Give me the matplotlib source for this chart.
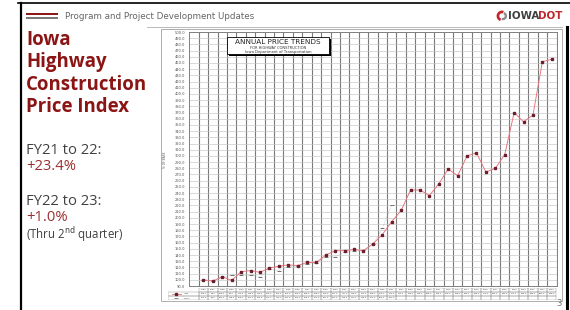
import matplotlib
matplotlib.use("Agg")
import matplotlib.pyplot as plt
from matplotlib.patches import Rectangle, Wedge
from matplotlib.lines import Line2D

# ---------------- data ----------------
years = list(range(1986, 2024))
iowa_index = [100, 98, 105, 99, 113, 115, 112, 119, 122, 124,
              123, 128, 128, 140, 147, 147, 149, 147, 158, 173,
              194, 212, 245, 245, 236, 255, 279, 268, 300, 305,
              274, 280, 302, 370, 355, 366, 452, 456]
national_years = list(range(1986, 2007))
national_index = [100, 98, 104, 108, 108, 107, 105, 117, 115, 121,
                  122, 126, 127, 137, 137, 145, 147, 148, 157, 183, 221]
y_ticks = list(range(90, 501, 10))
series_labels = ["Iowa", "FHWA"]

W, H = 570, 310
fig = plt.figure(figsize=(5.7, 3.1), dpi=100)
fig.patch.set_facecolor("white")


def fr(x0, y0, x1, y1):
    return [x0 / W, 1 - y1 / H, (x1 - x0) / W, (y1 - y0) / H]


bg = fig.add_axes([0, 0, 1, 1])
bg.set_xlim(0, W)
bg.set_ylim(H, 0)
bg.axis("off")

# slide borders
bg.add_line(Line2D([18, 570], [2.5, 2.5], color="black", lw=1.2))
bg.add_line(Line2D([20.5, 20.5], [2.5, 310], color="black", lw=1.6))
bg.add_line(Line2D([566.5, 566.5], [27, 310], color="black", lw=2.2))

# header
bg.add_patch(Rectangle((26, 13.3), 32, 2.0, color="#8B1A1A", lw=0))
bg.add_patch(Rectangle((26, 16.7), 32, 2.8, color="#7a7a7a", lw=0))
bg.text(65, 16.2, "Program and Project Development Updates", fontsize=6.3,
        color="#666666", va="center", ha="left", family="DejaVu Sans")
# logo
bg.add_patch(Wedge((502, 16), 5.4, 110, 290, width=2.7, color="#C0272D", lw=0))
bg.add_patch(Wedge((502.8, 16), 4.2, 290, 110, width=2.3, color="#8a8a8a", lw=0))
bg.text(508, 16.2, "IOWA", fontsize=7.4, fontweight="bold", color="#404040",
        va="center", ha="left", family="DejaVu Sans")
bg.text(538, 16.2, "DOT", fontsize=7.4, fontweight="bold", color="#C0272D",
        va="center", ha="left", family="DejaVu Sans")

# chart image frame
bg.add_line(Line2D([147, 562], [27, 27], color="#b0b0b0", lw=0.6))
bg.add_patch(Rectangle((161, 28.5), 401, 272.5, fill=False, ec="#a0a0a0", lw=0.6))
bg.text(559, 303, "3", fontsize=6, color="#707070", ha="center", va="center")

# left text panel
red_dark = "#8B1414"
for i, line in enumerate(["Iowa", "Highway", "Construction", "Price Index"]):
    bg.text(26, 40 + i * 22.3, line, fontsize=13.4, fontweight="bold",
            color=red_dark, va="center", ha="left", family="Open Sans")
bg.text(26, 150, "FY21 to 22:", fontsize=10.6, color="#404040", va="center",
        family="Open Sans")
bg.text(26, 166.5, "+23.4%", fontsize=10.6, color="#9B2F2F", va="center",
        family="Open Sans")
bg.text(26, 201.5, "FY22 to 23:", fontsize=10.6, color="#404040", va="center",
        family="Open Sans")
bg.text(26, 217.5, "+1.0%", fontsize=10.6, color="#9B2F2F", va="center",
        family="Open Sans")
bg.text(26, 234.5, r"(Thru 2$^{\mathrm{nd}}$ quarter)", fontsize=8.3,
        color="#404040", va="center", family="Open Sans")

# ---------------- chart ----------------
ax = fig.add_axes(fr(189.3, 32, 556.5, 286))
xs = list(range(len(years)))
ax.set_xlim(-1.5, len(years) - 0.5)
ax.set_ylim(90, 500)
ax.set_yticks(y_ticks)
ax.set_yticklabels([f"{v:.1f}" for v in y_ticks], fontsize=2.6, color="#555555")
ax.tick_params(axis="y", length=0, pad=3)
ax.set_xticks([])
ax.set_xticks([i + 0.5 for i in range(-1, len(years))], minor=True)
ax.tick_params(axis="x", which="minor", length=0)
ax.grid(axis="y", which="major", color="#c4c4c4", lw=0.45)
ax.grid(axis="x", which="minor", color="#7a7a7a", lw=0.8)
ax.set_axisbelow(True)
for s in ax.spines.values():
    s.set_color("#808080")
    s.set_linewidth(0.7)

nat_x = [years.index(y) for y in national_years]
ax.plot(nat_x, national_index, linestyle=":", lw=0.4, color="#9a9a9a",
        marker="_", ms=3.2, mew=0.7, mec="#707070", zorder=3)
ax.plot(xs, iowa_index, color="#E8707A", lw=0.65, marker="s", ms=1.7,
        mfc="#6B1E2C", mec="#6B1E2C", zorder=4)

fig.text(165 / W, 1 - 160 / H, "% OF BASE", rotation=90, fontsize=2.2,
         color="#555555", ha="center", va="center")

# ---------------- data table ----------------
left_edge = -1.5 - (189.3 - 168) / ((556.5 - 189.3) / (len(years) + 1))
tax = fig.add_axes(fr(168, 288, 556.5, 300))
tax.set_xlim(left_edge, len(years) - 0.5)
tax.set_ylim(3, 0)
tax.axis("off")
tfs = 1.6
for i, yr in enumerate(years):
    tax.add_patch(Rectangle((i - 0.5, 0), 1, 1, fill=False, ec="#909090", lw=0.3))
    tax.text(i, 0.5, str(yr), fontsize=tfs, ha="center", va="center", color="#444")
    tax.add_patch(Rectangle((i - 0.5, 1), 1, 1, fill=False, ec="#909090", lw=0.3))
    tax.text(i, 1.5, f"{iowa_index[i]:.1f}", fontsize=tfs, ha="center",
             va="center", color="#444")
    tax.add_patch(Rectangle((i - 0.5, 2), 1, 1, fill=False, ec="#909090", lw=0.3))
for yr, v in zip(national_years, national_index):
    tax.text(years.index(yr), 2.5, f"{v:.1f}", fontsize=tfs, ha="center",
             va="center", color="#444")
for r in (1, 2):
    tax.add_patch(Rectangle((left_edge, r), -0.5 - left_edge, 1, fill=False,
                            ec="#909090", lw=0.3))
tax.plot([left_edge + 0.4, left_edge + 1.4], [1.5, 1.5], color="#E8707A", lw=0.6)
tax.plot([left_edge + 0.9], [1.5], marker="s", ms=1.6, color="#6B1E2C")
tax.plot([left_edge + 0.9], [2.5], marker="_", ms=2.5, mew=0.6, color="#707070")
tax.text(left_edge + 1.7, 1.5, series_labels[0], fontsize=tfs, va="center", color="#444")
tax.text(left_edge + 1.7, 2.5, series_labels[1], fontsize=tfs, va="center", color="#444")

# ---------------- title box overlay ----------------
ov = fig.add_axes([0, 0, 1, 1])
ov.set_xlim(0, W)
ov.set_ylim(H, 0)
ov.axis("off")
ov.patch.set_alpha(0)
ov.add_patch(Rectangle((228.5, 38.5), 102.5, 17, color="black", lw=0))
ov.add_patch(Rectangle((227, 37), 102, 16.5, fc="white", ec="black", lw=0.6))
ov.text(278, 42.3, "ANNUAL PRICE TRENDS", fontsize=5.2, ha="center",
        va="center", color="#222222", family="DejaVu Sans")
ov.text(278, 48.2, "FOR HIGHWAY CONSTRUCTION", fontsize=2.6, ha="center",
        va="center", color="#333333")
ov.text(278, 51.6, "Iowa Department of Transportation", fontsize=2.7,
        ha="center", va="center", color="#333333")

fig.savefig("out.png", dpi=100)
